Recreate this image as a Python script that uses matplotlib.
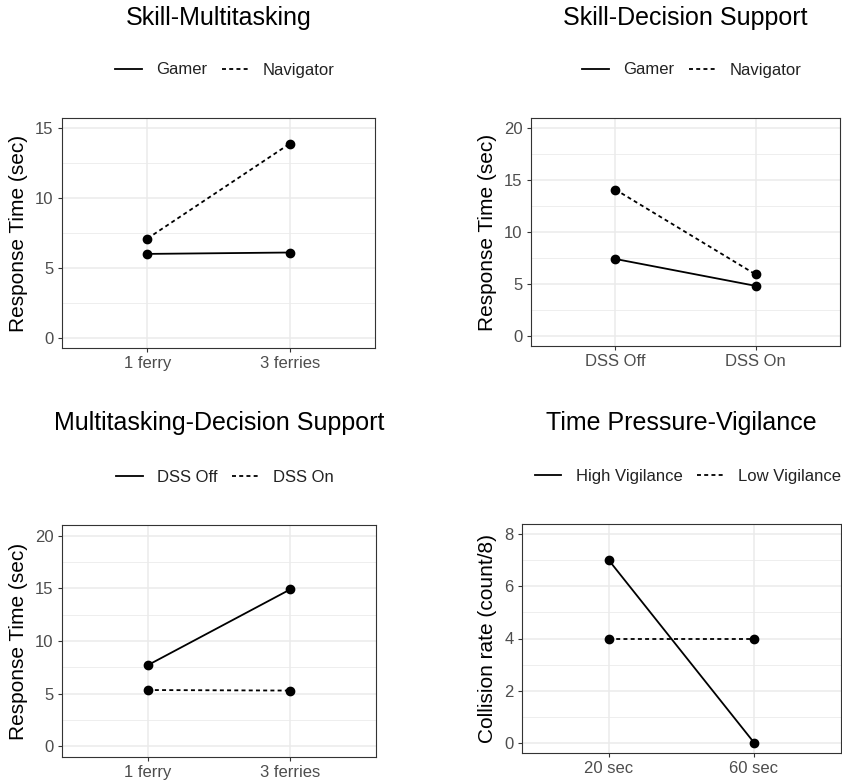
import matplotlib
matplotlib.use("Agg")
import matplotlib.pyplot as plt
from matplotlib.lines import Line2D
from matplotlib.ticker import MultipleLocator

plt.rcParams['font.family'] = ['Liberation Sans', 'DejaVu Sans']

# ======== data ========
ferry_cats = ["1 ferry", "3 ferries"]
dss_cats = ["DSS Off", "DSS On"]
tp_cats = ["20 sec", "60 sec"]

sm_gamer = [6.0, 6.1]
sm_navigator = [7.1, 13.9]

sd_gamer = [7.4, 4.8]
sd_navigator = [14.1, 5.9]

md_dss_off = [7.7, 14.9]
md_dss_on = [5.35, 5.3]

tv_high = [7, 0]
tv_low = [4, 4]

W, H = 842, 783
fig = plt.figure(figsize=(W / 100, H / 100), dpi=100)


def px_axes(x0, y0, x1, y1):
    return fig.add_axes([x0 / W, 1 - y1 / H, (x1 - x0) / W, (y1 - y0) / H])


panels = [
    dict(box=(62, 118, 375, 348), title="Skill-Multitasking", title_y=18,
         leg_x=225, leg_y=70, cats=ferry_cats,
         series=[("Gamer", sm_gamer), ("Navigator", sm_navigator)],
         ylim=(0, 15), major=5, ylabel="Response Time (sec)"),
    dict(box=(531, 118, 840, 346), title="Skill-Decision Support", title_y=18,
         leg_x=692, leg_y=70, cats=dss_cats,
         series=[("Gamer", sd_gamer), ("Navigator", sd_navigator)],
         ylim=(0, 20), major=5, ylabel="Response Time (sec)"),
    dict(box=(62, 525, 376, 757), title="Multitasking-Decision Support", title_y=423,
         leg_x=225, leg_y=477, cats=ferry_cats,
         series=[("DSS Off", md_dss_off), ("DSS On", md_dss_on)],
         ylim=(0, 20), major=5, ylabel="Response Time (sec)"),
    dict(box=(522, 524, 841, 753), title="Time Pressure-Vigilance", title_y=423,
         leg_x=688, leg_y=476, cats=tp_cats,
         series=[("High Vigilance", tv_high), ("Low Vigilance", tv_low)],
         ylim=(0, 8), major=2, ylabel="Collision rate (count/8)"),
]

styles = ["-", (0, (2.2, 1.8))]

for p in panels:
    ax = px_axes(*p["box"])
    lo, hi = p["ylim"]
    pad = (hi - lo) * 0.05
    ax.set_ylim(lo - pad, hi + pad)
    ax.set_xlim(0.4, 2.6)
    xs = [1, 2]
    handles = []
    for (name, vals), ls in zip(p["series"], styles):
        ax.plot(xs, vals, color="black", linestyle=ls, linewidth=1.3, zorder=3)
        ax.plot(xs, vals, "o", color="black", markersize=6, zorder=4)
        handles.append(Line2D([], [], color="black", linestyle=ls, linewidth=1.3, label=name))

    ax.set_xticks(xs)
    ax.set_xticklabels(p["cats"])
    ax.yaxis.set_major_locator(MultipleLocator(p["major"]))
    ax.yaxis.set_minor_locator(MultipleLocator(p["major"] / 2))
    ax.tick_params(axis="both", which="major", labelsize=12, labelcolor="#4D4D4D",
                   color="#333333", length=3, width=0.8, pad=3)
    ax.tick_params(axis="y", which="minor", length=0)

    ax.grid(which="major", color="#EBEBEB", linewidth=1.1, zorder=0)
    ax.grid(which="minor", axis="y", color="#EBEBEB", linewidth=0.6, zorder=0)
    ax.set_axisbelow(True)
    for s in ax.spines.values():
        s.set_color("#333333")
        s.set_linewidth(0.8)

    ax.set_ylabel(p["ylabel"], fontsize=15, color="black", labelpad=5)

    x0, _, x1, _ = p["box"]
    fig.text((x0 + x1) / 2 / W, 1 - p["title_y"] / H, p["title"], fontsize=18,
             ha="center", va="center", color="black")
    leg = fig.legend(handles=handles, loc="center",
                     bbox_to_anchor=(p["leg_x"] / W, 1 - p["leg_y"] / H),
                     ncol=2, frameon=False, fontsize=12, handlelength=1.6,
                     columnspacing=0.9, handletextpad=0.85, borderpad=0, borderaxespad=0)
    for t in leg.get_texts():
        t.set_color("#222222")

fig.savefig("out.png", dpi=100)
